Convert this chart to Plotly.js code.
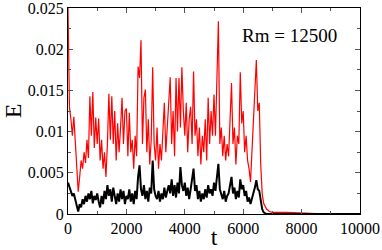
<!DOCTYPE html>
<html><head><meta charset="utf-8">
<script src="https://cdn.plot.ly/plotly-3.0.1.min.js"></script>
<style>body{margin:0;padding:0;background:#fff}#c{width:382px;height:250px}</style>
</head><body><div id="c"></div>
<script>
const tRed = [];
const tBlack = [];
const redVals = [
0.025,0.013,0.0115,0.0095,0.0118,0.0085,0.006,0.0027,0.0045,0.0065,
0.0055,0.0075,0.0062,0.009,0.0068,0.0143,0.0095,0.0148,0.008,0.0117,
0.0085,0.0116,0.0065,0.009,0.0055,0.0075,0.0045,0.0085,0.0146,0.009,
0.0143,0.0085,0.0125,0.0065,0.011,0.0075,0.0105,0.0141,0.0085,0.0125,
0.0128,0.007,0.0123,0.0075,0.009,0.0055,0.0095,0.007,0.0179,0.0165,
0.0211,0.0085,0.0141,0.0151,0.0075,0.0115,0.006,0.009,0.0178,0.0085,
0.0065,0.0105,0.0055,0.0085,0.0065,0.0095,0.0135,0.0075,0.0105,0.0125,
0.0166,0.0085,0.0125,0.007,0.0165,0.01,0.0165,0.0105,0.0178,0.0125,
0.0095,0.0135,0.0075,0.0115,0.013,0.0085,0.0173,0.0095,0.0115,0.007,
0.0105,0.006,0.0095,0.0075,0.0115,0.0065,0.0141,0.0085,0.0125,0.0095,
0.0145,0.0095,0.0175,0.0234,0.0085,0.0105,0.007,0.0095,0.0065,0.0085,
0.007,0.0125,0.0159,0.0085,0.0105,0.006,0.0095,0.0085,0.0172,0.011,
0.0125,0.0075,0.0095,0.0065,0.0055,0.0039,0.0075,0.0125,0.0145,0.0187,
0.0125,0.0135,0.006,0.0025,0.0013,0.0009,0.0006
];
const redTailT = [6900,7000,7500,8000,8500,9000,10000];
const redTail = [0.0003,0.0002,0.0002,0.0001,0.00005,0.00003,0.00002];
const blackVals = [
0.0038,0.0032,0.0028,0.0022,0.0025,0.0015,0.001,0.0003,0.0012,0.0008,
0.0018,0.0012,0.0022,0.0015,0.0025,0.0018,0.0028,0.0013,0.0022,0.0017,
0.0025,0.0015,0.0008,0.0022,0.0012,0.0028,0.0018,0.0035,0.0022,0.003,
0.0015,0.0032,0.002,0.0012,0.0025,0.0015,0.003,0.0018,0.0028,0.0012,
0.0022,0.0018,0.003,0.0015,0.0025,0.0012,0.0028,0.0018,0.0045,0.0059,
0.003,0.0022,0.0035,0.0018,0.0028,0.0015,0.0032,0.0025,0.0065,0.003,
0.0022,0.0018,0.0028,0.0015,0.0025,0.0018,0.0032,0.002,0.0028,0.0035,
0.0025,0.0042,0.0022,0.0035,0.002,0.0038,0.0025,0.0057,0.0035,0.0028,
0.0038,0.0022,0.0032,0.0018,0.003,0.0042,0.0055,0.0028,0.0035,0.0018,
0.0028,0.0015,0.0025,0.0018,0.003,0.002,0.0035,0.0025,0.003,0.0022,
0.0038,0.0028,0.0042,0.0061,0.003,0.0025,0.0018,0.0028,0.0015,0.0022,
0.0025,0.0035,0.0045,0.0025,0.0032,0.0018,0.0028,0.002,0.0042,0.003,
0.0035,0.0022,0.0028,0.0015,0.002,0.0012,0.0018,0.0025,0.0032,0.0041,
0.003,0.0028,0.0015,0.0006,0.0002,0.00005,0
];
const blackTailT = [7000,8000,9000,10000];
const blackTail = [0,0,0,0];
const dt = 50;
for (let i = 0; i < redVals.length; i++) tRed.push(i*dt);
for (let i = 0; i < blackVals.length; i++) tBlack.push(i*dt);
const xTickVals = [0,2000,4000,6000,8000,10000];
const yTickVals = [0,0.005,0.01,0.015,0.02,0.025];
const yTickText = ['0','0.005','0.01','0.015','0.02','0.025'];

const font = "Liberation Serif";
const traces = [
  {x: tRed.concat(redTailT), y: redVals.concat(redTail), mode:'lines', line:{color:'#ff0000', width:1.2}, hoverinfo:'skip'},
  {x: tBlack.concat(blackTailT), y: blackVals.concat(blackTail), mode:'lines', line:{color:'#000000', width:2}, hoverinfo:'skip'}
];
const axBase = {showgrid:false, zeroline:false, showline:true, linecolor:'#000', linewidth:1,
  mirror:'ticks', ticks:'inside', ticklen:5, tickwidth:1, tickcolor:'#555',
  ticklabeloverflow:'allow',
  tickfont:{family:font, size:16, color:'#000'}};
const layout = {
  width:382, height:250,
  margin:{l:68, r:22, t:8, b:36},
  paper_bgcolor:'#fff', plot_bgcolor:'#fff',
  showlegend:false,
  font:{family:font},
  xaxis: Object.assign({}, axBase, {range:[0,10000], tickvals:xTickVals, ticktext:xTickVals.map(String),
    minor:{dtick:1000, tick0:0, ticks:'inside', ticklen:3, tickcolor:'#555'},
    title:{text:'t', font:{family:font, size:24, color:'#000'}, standoff:0}}),
  yaxis: Object.assign({}, axBase, {range:[0,0.025], tickvals:yTickVals, ticktext:yTickText,
    minor:{dtick:0.0025, tick0:0, ticks:'inside', ticklen:3, tickcolor:'#555'},
    title:{text:'E', font:{family:font, size:24, color:'#000'}, standoff:4}}),
  annotations:[{x:7600, y:0.0217, xref:'x', yref:'y', text:'Rm = 12500', showarrow:false,
    font:{family:font, size:19, color:'#000'}}]
};
Plotly.newPlot('c', traces, layout, {displayModeBar:false, staticPlot:true});
</script></body></html>
